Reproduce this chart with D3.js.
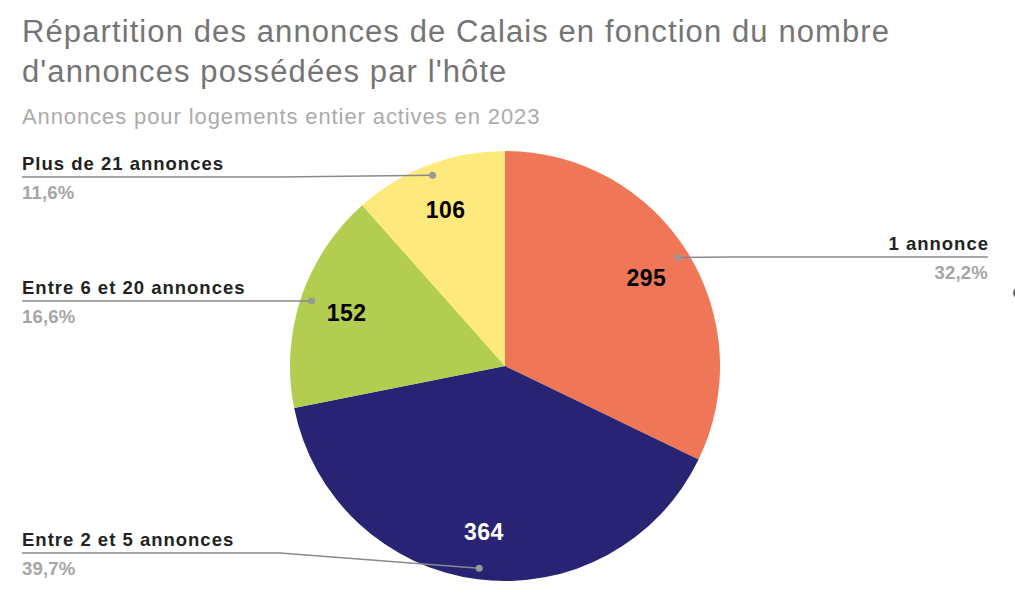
<!DOCTYPE html>
<meta charset="utf-8">
<head>
  <script src="https://d3js.org/d3.v7.min.js"></script>
  <style>
    body { margin: 0; background: #fff; }
    text { font-family: "Liberation Sans", Arial, sans-serif; }
  </style>
</head>
<body>
<div id="pie_chart"></div>
<script>

// data
var categories = ["1 annonce", "Entre 2 et 5 annonces", "Entre 6 et 20 annonces", "Plus de 21 annonces"];
var values = [295, 364, 152, 106];
var colors = ["#ef7757", "#292373", "#b2cd4f", "#fde97c"];
var valueColors = ["#000", "#fff", "#000", "#000"];

// where each leader line ends up (layout only)
var labelY = [257, 553, 301, 177];
var labelSide = ["right", "left", "left", "left"];

var width = 1015, height = 602;
var cx = 505, cy = 366, radius = 215;

var svg = d3.select("#pie_chart")
  .append("svg")
    .attr("width", width)
    .attr("height", height);

// titles
svg.append("text")
  .attr("x", 22).attr("y", 42)
  .style("font-size", "31px").style("fill", "#757575").style("letter-spacing", "1.1px")
  .text("Répartition des annonces de Calais en fonction du nombre");
svg.append("text")
  .attr("x", 22).attr("y", 82)
  .style("font-size", "31px").style("fill", "#757575").style("letter-spacing", "1.1px")
  .text("d'annonces possédées par l'hôte");
svg.append("text")
  .attr("x", 22).attr("y", 124)
  .style("font-size", "22px").style("fill", "#ababab").style("letter-spacing", "0.9px")
  .text("Annonces pour logements entier actives en 2023");

var total = d3.sum(values);
var fmt = function(v) { return (v / total * 100).toFixed(1).replace(".", ",") + "%"; };

var pie = d3.pie().sort(null).value(function(d) { return d; });
var arcs = pie(values);

var arc = d3.arc().innerRadius(0).outerRadius(radius);
var labelArc = d3.arc().innerRadius(167).outerRadius(167);
var dotArc = d3.arc().innerRadius(204).outerRadius(204);

var g = svg.append("g").attr("transform", "translate(" + cx + "," + cy + ")");

g.selectAll("path.slice")
  .data(arcs)
  .enter().append("path")
    .attr("class", "slice")
    .attr("d", arc)
    .attr("fill", function(d, i) { return colors[i]; });

// values inside the slices
g.selectAll("text.val")
  .data(arcs)
  .enter().append("text")
    .attr("class", "val")
    .attr("transform", function(d) { return "translate(" + labelArc.centroid(d) + ")"; })
    .attr("text-anchor", "middle")
    .attr("dy", "0.36em")
    .style("font-size", "23px")
    .style("font-weight", "bold")
    .style("letter-spacing", "0.5px")
    .style("fill", function(d, i) { return valueColors[i]; })
    .text(function(d) { return d.data; });

// leader lines
var leftX = 22, rightX = 988, bendLeft = 280, bendRight = 730;
arcs.forEach(function(d, i) {
  var p = dotArc.centroid(d);
  var px = p[0] + cx, py = p[1] + cy;
  var ly = labelY[i];
  var pts;
  if (labelSide[i] == "left") {
    pts = px > bendLeft ? [[px, py], [bendLeft, ly], [leftX, ly]] : [[px, py], [leftX, ly]];
  } else {
    pts = px < bendRight ? [[px, py], [bendRight, ly], [rightX, ly]] : [[px, py], [rightX, ly]];
  }
  svg.append("path")
    .attr("d", d3.line()(pts))
    .attr("fill", "none")
    .attr("stroke", "#8a8a8a")
    .attr("stroke-width", 1.5);
  svg.append("circle")
    .attr("cx", px).attr("cy", py).attr("r", 3.5)
    .style("fill", "#999");

  var left = labelSide[i] == "left";
  var anchor = left ? "start" : "end";
  svg.append("text")
    .attr("x", left ? leftX : rightX + 1).attr("y", ly - 7)
    .attr("text-anchor", anchor)
    .style("font-size", "18.5px").style("font-weight", "bold").style("fill", "#222")
    .style("letter-spacing", "1px")
    .text(categories[i]);
  svg.append("text")
    .attr("x", left ? leftX : rightX).attr("y", ly + 22)
    .attr("text-anchor", anchor)
    .style("font-size", "18.5px").style("font-weight", "bold").style("fill", "#a5a5a5")
    .style("letter-spacing", "0.2px")
    .text(fmt(values[i]));
});

// clipped marker at the right edge
svg.append("circle")
  .attr("cx", 1019).attr("cy", 293).attr("r", 6)
  .style("fill", "#666");

</script>
</body>
